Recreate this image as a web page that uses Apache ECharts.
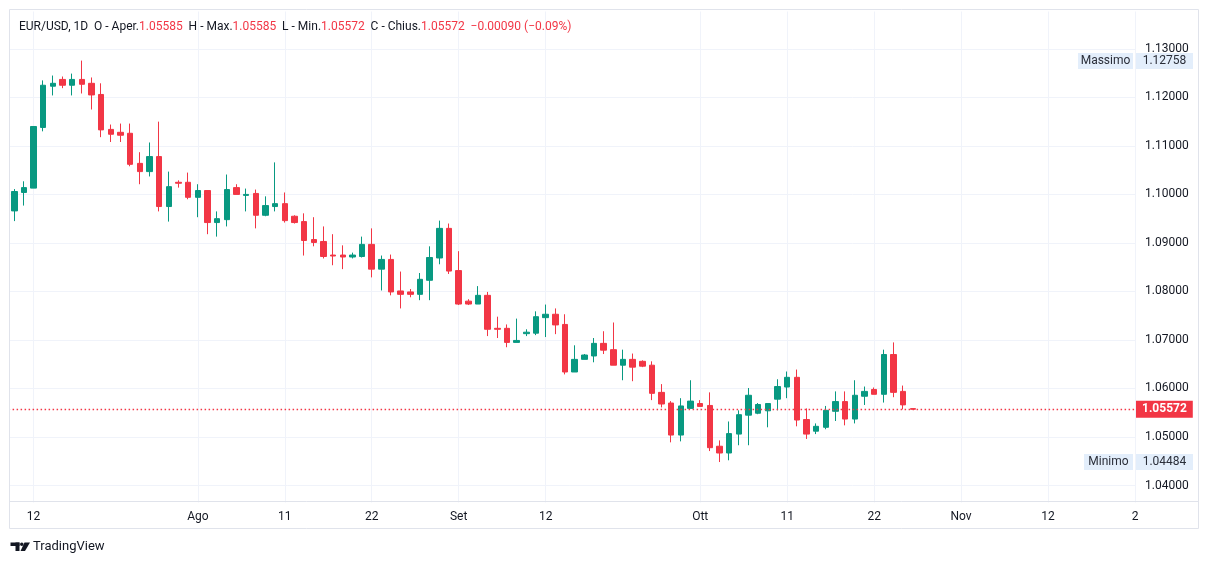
<!DOCTYPE html>
<html>
<head>
<meta charset="utf-8">
<script src="https://cdn.jsdelivr.net/npm/echarts@6/dist/echarts.min.js"></script>
<style>
  html, body { margin: 0; padding: 0; background: #fff; }
  #chart { width: 1209px; height: 564px; }
</style>
</head>
<body>
<div id="chart"></div>
<script>
// slot 0 is an empty Sunday, bars start on 2023-07-10 (feed has Sunday bars, no Saturdays)
const firstSlot = '2023-07-09';
const totalSlots = 118;

// daily bars: [open, high, low, close]
const ohlc = [
  [1.0966, 1.1011, 1.0945, 1.1006], [1.1004, 1.1027, 1.0977, 1.1014], [1.1013, 1.1140, 1.1013, 1.1140],
  [1.1138, 1.1235, 1.1130, 1.1225], [1.1223, 1.1245, 1.1204, 1.1229], [1.1237, 1.1243, 1.1219, 1.1225],
  [1.1225, 1.1249, 1.1204, 1.1237], [1.1237, 1.12758, 1.1208, 1.1227], [1.1229, 1.1241, 1.1175, 1.1205],
  [1.1206, 1.1229, 1.1118, 1.1133], [1.1134, 1.1144, 1.1108, 1.1124], [1.1128, 1.1146, 1.1108, 1.1122],
  [1.1126, 1.1146, 1.1058, 1.1062], [1.1064, 1.1087, 1.1021, 1.1047], [1.1047, 1.1107, 1.1037, 1.1078],
  [1.1078, 1.1150, 1.0965, 1.0975], [1.0975, 1.1047, 1.0944, 1.1016], [1.1025, 1.1029, 1.1014, 1.1023],
  [1.1025, 1.1045, 1.0990, 1.0994], [1.0994, 1.1021, 1.0953, 1.1008], [1.1008, 1.1008, 1.0918, 1.0942],
  [1.0942, 1.0965, 1.0913, 1.0950], [1.0948, 1.1041, 1.0934, 1.1010], [1.1014, 1.1021, 1.1000, 1.1000],
  [1.0998, 1.1012, 1.0965, 1.1000], [1.1002, 1.1010, 1.0930, 1.0957], [1.0957, 1.0996, 1.0955, 1.0977],
  [1.0975, 1.1066, 1.0965, 1.0981], [1.0981, 1.1004, 1.0942, 1.0946], [1.0955, 1.0957, 1.0940, 1.0942],
  [1.0944, 1.0961, 1.0874, 1.0905], [1.0907, 1.0953, 1.0893, 1.0901], [1.0903, 1.0934, 1.0868, 1.0872],
  [1.0875, 1.0918, 1.0854, 1.0873], [1.0875, 1.0895, 1.0846, 1.0871], [1.0871, 1.0880, 1.0868, 1.0875],
  [1.0872, 1.0913, 1.0870, 1.0897], [1.0897, 1.0930, 1.0829, 1.0846], [1.0846, 1.0874, 1.0802, 1.0866],
  [1.0866, 1.0876, 1.0792, 1.0799], [1.0801, 1.0841, 1.0765, 1.0794], [1.0799, 1.0805, 1.0788, 1.0794],
  [1.0794, 1.0838, 1.0782, 1.0825], [1.0823, 1.0893, 1.0782, 1.0870], [1.0869, 1.0946, 1.0856, 1.0930],
  [1.0930, 1.0940, 1.0836, 1.0842], [1.0843, 1.0883, 1.0772, 1.0774], [1.0780, 1.0784, 1.0772, 1.0774],
  [1.0774, 1.0811, 1.0774, 1.0792], [1.0792, 1.0799, 1.0708, 1.0722], [1.0724, 1.0748, 1.0704, 1.0722],
  [1.0724, 1.0732, 1.0685, 1.0695], [1.0695, 1.0744, 1.0695, 1.0699], [1.0713, 1.0722, 1.0708, 1.0716],
  [1.0714, 1.0759, 1.0710, 1.0748], [1.0746, 1.0773, 1.0706, 1.0753], [1.0753, 1.0765, 1.0712, 1.0731],
  [1.0732, 1.0753, 1.0629, 1.0634], [1.0634, 1.0689, 1.0634, 1.0660], [1.0660, 1.0671, 1.0660, 1.0669],
  [1.0667, 1.0704, 1.0654, 1.0693], [1.0693, 1.0718, 1.0671, 1.0679], [1.0680, 1.0736, 1.0648, 1.0648],
  [1.0648, 1.0680, 1.0617, 1.0660], [1.0660, 1.0672, 1.0615, 1.0644], [1.0656, 1.0658, 1.0644, 1.0646],
  [1.0648, 1.0656, 1.0576, 1.0590], [1.0592, 1.0609, 1.0561, 1.0568], [1.0570, 1.0574, 1.0489, 1.0504],
  [1.0504, 1.0580, 1.0491, 1.0564], [1.0559, 1.0617, 1.0559, 1.0574], [1.0569, 1.0576, 1.0563, 1.0563],
  [1.0565, 1.0592, 1.0471, 1.0478], [1.0481, 1.0493, 1.04484, 1.0467], [1.0467, 1.0532, 1.0452, 1.0507],
  [1.0506, 1.0555, 1.0483, 1.0546], [1.0545, 1.0601, 1.0483, 1.0586], [1.0549, 1.0570, 1.0547, 1.0567],
  [1.0554, 1.0569, 1.0520, 1.0569], [1.0578, 1.0619, 1.0555, 1.0604], [1.0603, 1.0635, 1.0580, 1.0623],
  [1.0623, 1.0639, 1.0522, 1.0535], [1.0536, 1.0559, 1.0496, 1.0506], [1.0512, 1.0528, 1.0506, 1.0522],
  [1.0520, 1.0564, 1.0516, 1.0555], [1.0553, 1.0594, 1.0533, 1.0573], [1.0573, 1.0594, 1.0524, 1.0537],
  [1.0537, 1.0617, 1.0528, 1.0586], [1.0584, 1.0604, 1.0566, 1.0594], [1.0598, 1.0602, 1.0588, 1.0588],
  [1.0588, 1.0680, 1.0571, 1.0670], [1.0670, 1.0695, 1.0582, 1.0592], [1.0594, 1.0606, 1.0557, 1.05662],
  [1.05585, 1.05585, 1.05572, 1.05572]
];

// time scale labels (date -> text)
const tickLabels = {
  '2023-07-12': '12', '2023-08-01': 'Ago', '2023-08-11': '11', '2023-08-22': '22',
  '2023-09-01': 'Set', '2023-09-12': '12', '2023-10-01': 'Ott', '2023-10-11': '11',
  '2023-10-22': '22', '2023-11-01': 'Nov', '2023-11-12': '12', '2023-11-22': '2'
};

const priceTicks = [1.04, 1.05, 1.06, 1.07, 1.08, 1.09, 1.10, 1.11, 1.12, 1.13];

const UP = '#089981';
const DOWN = '#F23645';
const TEXT = '#131722';
const GRID = '#F0F3FA';
const FONT = 'Roboto, "Noto Sans", sans-serif';

// categories, skipping saturdays
const categories = [];
let d = new Date(firstSlot + 'T00:00:00Z');
while (categories.length < totalSlots) {
  if (d.getUTCDay() !== 6) categories.push(d.toISOString().slice(0, 10));
  d.setUTCDate(d.getUTCDate() + 1);
}

const candleData = ['-'].concat(ohlc.map(([o, h, l, c]) => [o, c, l, h]));

const last = ohlc[ohlc.length - 1];
const prevClose = ohlc[ohlc.length - 2][3];
const chg = last[3] - prevClose;
const pct = chg / prevClose * 100;
const sign = v => (v < 0 ? '\u2212' : '+');
const hiPrice = Math.max(...ohlc.map(r => r[1]));
const loPrice = Math.min(...ohlc.map(r => r[2]));

const header =
  '{k|EUR/USD, 1D}  {k|O - Aper.}{v|' + last[0].toFixed(5) + '}  ' +
  '{k|H - Max.}{v|' + last[1].toFixed(5) + '}  ' +
  '{k|L - Min.}{v|' + last[2].toFixed(5) + '}  ' +
  '{k|C - Chius.}{v|' + last[3].toFixed(5) + '}  ' +
  '{v|' + sign(chg) + Math.abs(chg).toFixed(5) + ' (' + sign(pct) + Math.abs(pct).toFixed(2) + '%)}';

const isTick = (i, v) => tickLabels[v] !== undefined;

const chart = echarts.init(document.getElementById('chart'));

chart.setOption({
  animation: false,
  backgroundColor: '#fff',
  textStyle: { fontFamily: FONT },
  title: {
    text: header,
    left: 14,
    top: 16,
    textStyle: {
      fontSize: 12,
      fontWeight: 'normal',
      rich: {
        k: { color: TEXT, fontSize: 12, fontFamily: FONT },
        v: { color: DOWN, fontSize: 12, fontFamily: FONT }
      }
    }
  },
  grid: { left: 4.6, right: 74, top: 11.5, bottom: 61.5 },
  xAxis: {
    type: 'category',
    data: categories,
    boundaryGap: false,
    axisLine: { show: false },
    axisTick: { show: false },
    axisLabel: {
      interval: isTick,
      formatter: v => tickLabels[v] || '',
      color: TEXT,
      fontSize: 12,
      margin: 8,
      fontFamily: FONT
    },
    splitLine: { show: true, interval: isTick, lineStyle: { color: GRID, width: 1 } }
  },
  yAxis: {
    type: 'value',
    position: 'right',
    scale: true,
    min: 1.0365,
    max: 1.1377,
    axisLine: { show: false },
    axisTick: { show: false },
    axisLabel: { show: false },
    splitLine: { show: false }
  },
  series: [
    {
      // horizontal grid + price scale labels
      type: 'line',
      data: [],
      silent: true,
      z: 1,
      markLine: {
        silent: true,
        z: 1,
        precision: 5,
        symbol: 'none',
        lineStyle: { color: GRID, width: 1, type: 'solid' },
        label: {
          position: 'end',
          distance: 10,
          color: TEXT,
          fontSize: 12,
          fontFamily: FONT,
          formatter: p => Number(p.value).toFixed(5)
        },
        emphasis: { disabled: true },
        data: priceTicks.map(v => ({ yAxis: v }))
      }
    },
    {
      type: 'candlestick',
      data: candleData,
      barWidth: 6,
      z: 3,
      itemStyle: {
        color: UP,
        color0: DOWN,
        borderColor: UP,
        borderColor0: DOWN,
        borderWidth: 1
      },
      markLine: {
        silent: true,
        z: 6,
        precision: 5,
        symbol: 'none',
        lineStyle: { color: DOWN, width: 1.4, type: [1.5, 2.5], opacity: 1 },
        label: {
          position: 'end',
          distance: 1,
          backgroundColor: DOWN,
          color: '#fff',
          fontWeight: 'bold',
          fontSize: 12,
          fontFamily: FONT,
          padding: [3, 6, 2, 6],
          formatter: p => Number(p.value).toFixed(5)
        },
        data: [{ yAxis: last[3] }]
      }
    }
  ]
});

// Massimo / Minimo tags on the price scale, placed with the axis' own scale
function priceTag(name, value, nameWidth) {
  const y = Math.round(chart.convertToPixel({ yAxisIndex: 0 }, value));
  const tagFill = '#E3EEFB';
  return {
    type: 'group',
    z: 100,
    children: [
      { type: 'rect', shape: { x: 1133 - nameWidth, y: y - 8, width: nameWidth, height: 16 }, style: { fill: tagFill } },
      { type: 'text', style: { text: name, x: 1133 - nameWidth / 2, y: y, align: 'center', verticalAlign: 'middle', fill: '#2A2E39', font: '12px ' + FONT } },
      { type: 'rect', shape: { x: 1136, y: y - 8, width: 57, height: 16 }, style: { fill: tagFill } },
      { type: 'text', style: { text: value.toFixed(5), x: 1164.5, y: y, align: 'center', verticalAlign: 'middle', fill: '#2A2E39', font: '12px ' + FONT } }
    ]
  };
}

chart.setOption({
  graphic: [
    // hide the grid stubs left of the frame
    { type: 'rect', z: 40, shape: { x: 0, y: 9, width: 9.5, height: 520 }, style: { fill: '#fff' } },
    // outer frame and time scale border
    { type: 'rect', z: 50, shape: { x: 9.5, y: 9.5, width: 1189, height: 519 }, style: { fill: null, stroke: '#E0E3EB', lineWidth: 1 } },
    { type: 'line', z: 50, shape: { x1: 9.5, y1: 501.5, x2: 1198.5, y2: 501.5 }, style: { stroke: '#E0E3EB', lineWidth: 1 } },
    priceTag('Massimo', hiPrice, 55),
    priceTag('Minimo', loPrice, 49),
    // TradingView mark
    { type: 'rect', z: 50, shape: { x: 10.5, y: 542.5, width: 9, height: 3.5 }, style: { fill: TEXT } },
    { type: 'rect', z: 50, shape: { x: 15.5, y: 542.5, width: 4, height: 8.5 }, style: { fill: TEXT } },
    { type: 'circle', z: 50, shape: { cx: 21.8, cy: 544.2, r: 1.8 }, style: { fill: TEXT } },
    { type: 'polygon', z: 50, shape: { points: [[24.5, 542.5], [30, 542.5], [25, 551], [20.5, 551]] }, style: { fill: TEXT } },
    { type: 'text', z: 50, style: { text: 'TradingView', x: 33, y: 546.5, verticalAlign: 'middle', fill: TEXT, font: '13px ' + FONT } }
  ]
});
</script>
</body>
</html>
